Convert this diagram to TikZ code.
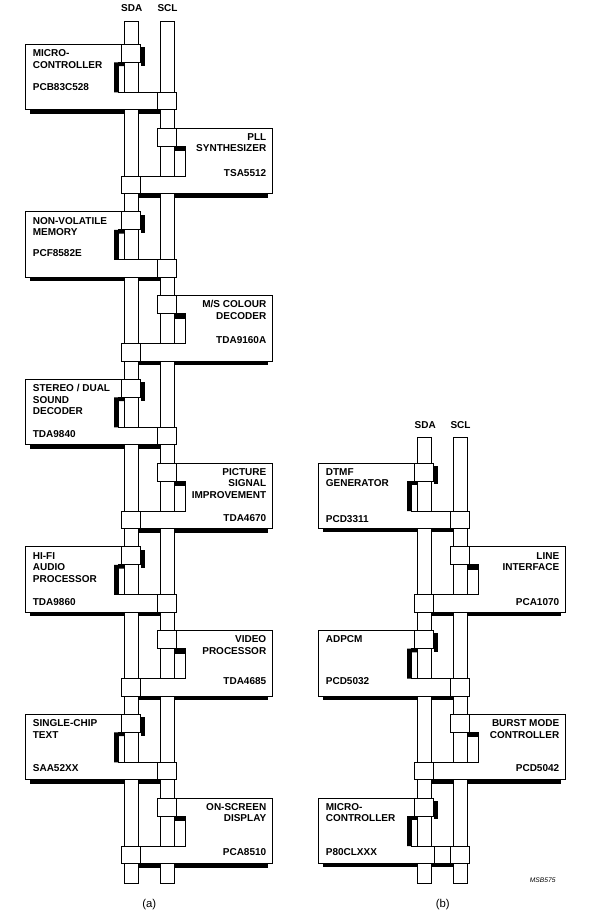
\documentclass[tikz,border=0pt]{standalone}
\usepackage{fontspec}
\setmainfont{Liberation Sans}
\pgfdeclarelayer{paper}
\pgfdeclarelayer{shad}
\pgfdeclarelayer{bus}
\pgfsetlayers{paper,shad,bus,main}
\tikzset{
  ln/.style={line width=0.8pt, line join=miter},
  wbox/.style={ln, draw=black, fill=white},
  lbl/.style={font=\bfseries\fontsize{7.5}{9}\selectfont, inner sep=0pt},
  capt/.style={font=\fontsize{8.5}{10}\selectfont, inner sep=0pt},
  code/.style={font=\itshape\fontsize{5}{6}\selectfont, inner sep=0pt},
}
% #1 name, #2 dx, #3 y0, #4 lines, #5 part number, #6 part offset
\newcommand\LeftMod[6]{%
 \begin{scope}[shift={(#2,#3)}]
  \begin{pgfonlayer}{shad}
   \fill (30.3,65.6) rectangle (160.3,69.4);
  \end{pgfonlayer}
  \draw[wbox] (25.7,0) -- (121.3,0) -- (121.3,18) -- (118.7,18) -- (118.7,48) -- (157.3,48) -- (157.3,65.6) -- (25.7,65.6) -- cycle;
  \fill (114,18) -- (124.5,18) -- (124.5,21.7) -- (118.7,21.7) -- (118.7,48) -- (114,48) -- cycle;
  \fill (140.7,2.7) rectangle (145,21.4);
  \draw[wbox] (121.3,0) rectangle (140.7,18);
  \draw[wbox] (157.3,48) rectangle (176.3,65.6);
  \foreach \t [count=\i from 0] in {#4}
    \node[lbl, anchor=base west] (#1-\i) at (32.6,{12.3+11.5*\i}) {\t};
  \node[lbl, anchor=base west] (#1-p) at (32.6,{#6+3.6}) {#5};
 \end{scope}}
\newcommand\RightMod[6]{%
 \begin{scope}[shift={(#2,#3)}]
  \begin{pgfonlayer}{shad}
   \fill (138.5,65.6) rectangle (267.7,69.6);
  \end{pgfonlayer}
  \draw[wbox] (176.3,0) -- (272.3,0) -- (272.3,65.6) -- (140.3,65.6) -- (140.3,48) -- (185.7,48) -- (185.7,18) -- (176.3,18) -- cycle;
  \fill (174.3,18) rectangle (185.7,23);
  \draw[wbox] (157.3,0) rectangle (176.3,18);
  \draw[wbox] (121.3,48) rectangle (140.7,65.6);
  \foreach \t [count=\i from 0] in {#4}
    \node[lbl, anchor=base east] (#1-\i) at (266.5,{12.3+11.5*\i}) {\t};
  \node[lbl, anchor=base east] (#1-p) at (266.5,{#6+3.6}) {#5};
 \end{scope}}
\begin{document}
\begin{tikzpicture}[x=0.75pt,y=-0.75pt]
\begin{pgfonlayer}{paper}
 \fill[white] (0,0) rectangle (590,911);
\end{pgfonlayer}
\useasboundingbox (0,0) rectangle (590,911);
% buses
\begin{pgfonlayer}{bus}
 \draw[wbox] (124.5,21.6) rectangle (138.5,883.3);
 \draw[wbox] (160.3,21.6) rectangle (174.3,883.3);
 \draw[wbox] (417.5,437.3) rectangle (431.5,883.3);
 \draw[wbox] (453.3,437.3) rectangle (467.3,883.3);
\end{pgfonlayer}
\node[lbl] (sdaA) at (131.8,8.5) {SDA};
\node[lbl] (sclA) at (167.5,8.5) {SCL};
\node[lbl] (sdaB) at (425.2,424.7) {SDA};
\node[lbl] (sclB) at (460.5,424.7) {SCL};
% (a)
\LeftMod{m1}{0}{44.3}{MICRO-,CONTROLLER}{PCB83C528}{42.4}
\RightMod{m2}{0}{128.05}{PLL,SYNTHESIZER}{TSA5512}{44.5}
\LeftMod{m3}{0}{211.8}{NON-VOLATILE,MEMORY}{PCF8582E}{41.5}
\RightMod{m4}{0}{295.55}{M/S COLOUR,DECODER}{TDA9160A}{44.5}
\LeftMod{m5}{0}{379.3}{STEREO / DUAL,SOUND,DECODER}{TDA9840}{55}
\RightMod{m6}{0}{463.05}{PICTURE,SIGNAL,IMPROVEMENT}{TDA4670}{55.2}
\LeftMod{m7}{0}{546.8}{HI-FI,AUDIO,PROCESSOR}{TDA9860}{55.5}
\RightMod{m8}{0}{630.55}{VIDEO,PROCESSOR}{TDA4685}{50.5}
\LeftMod{m9}{0}{714.3}{SINGLE-CHIP,TEXT}{SAA52XX}{53.5}
\RightMod{m10}{0}{798.05}{ON-SCREEN,DISPLAY}{PCA8510}{53.8}
% (b)
\LeftMod{n1}{293}{463.05}{DTMF,GENERATOR}{PCD3311}{55.5}
\RightMod{n2}{293}{546.8}{LINE,INTERFACE}{PCA1070}{55.5}
\LeftMod{n3}{293}{630.55}{ADPCM}{PCD5032}{50.5}
\RightMod{n4}{293}{714.3}{BURST MODE,CONTROLLER}{PCD5042}{53.5}
\LeftMod{n5}{293}{798.05}{MICRO-,CONTROLLER}{P80CLXXX}{53.8}
\draw[ln] (434.3,846.05) -- (434.3,863.65);
% captions
\node[capt] (capA) at (149.3,905) {(a)};
\node[capt] (capB) at (442.7,905) {(b)};
\node[code] (msb) at (542.7,880) {MSB575};
\end{tikzpicture}
\end{document}
